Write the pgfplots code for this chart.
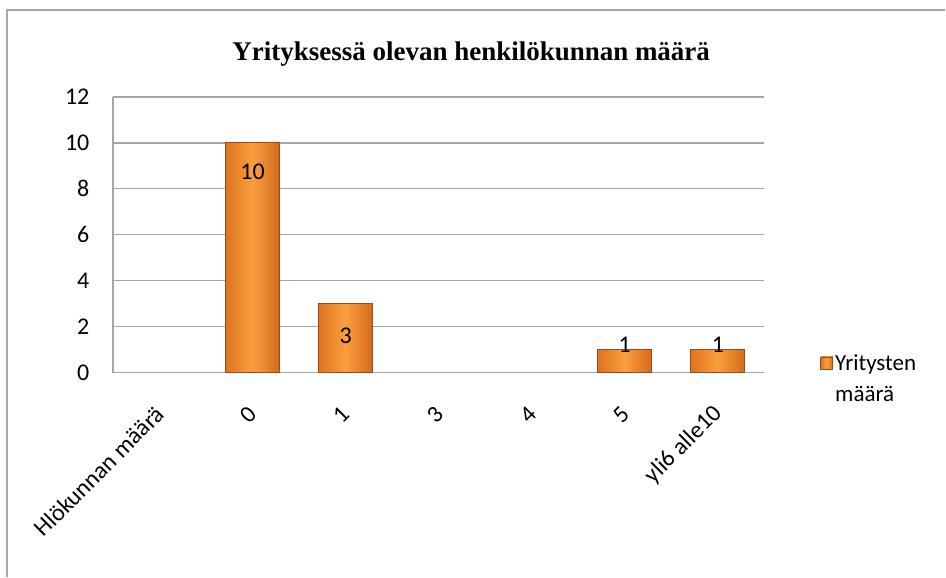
\documentclass[border=0pt]{standalone}
\usepackage{pgfplots}
\pgfplotsset{compat=1.18}
\usepackage{fontspec}
\setmainfont{Carlito}
\newfontfamily\titlefont{Liberation Serif}
\definecolor{gridgray}{RGB}{166,166,166}
\definecolor{barL}{RGB}{222,116,34}
\definecolor{barM}{RGB}{252,158,62}
\definecolor{barR}{RGB}{212,106,28}
\definecolor{barEdge}{RGB}{150,76,22}
\pgfplotsset{
  mybar/.style={ybar, bar width=54pt, bar shift=0pt, draw=barEdge, line width=0.8pt,
    left color=barL, right color=barR, middle color=barM,
    nodes near coords, point meta=y,
    every node near coord/.append style={anchor=north, yshift=#1, text=black,
      font=\fontsize{24}{28}\selectfont, /pgf/number format/assume math mode=true}},
}
\begin{document}
\begin{tikzpicture}[x=1pt,y=1pt]
\path[fill=white] (0,0) rectangle (946,577);
\draw[gridgray, line width=1.5pt] (7,0) -- (7,567) -- (946,567);
\begin{axis}[
  at={(113pt,204pt)}, anchor=south west,
  scale only axis, width=652pt, height=276pt,
  xmin=-0.5, xmax=6.5, ymin=0, ymax=12,
  xtick={0,1,2,3,4,5,6},
  xticklabels={Hlökunnan määrä,0,1,3,4,5,yli6 alle10},
  ytick={0,2,4,6,8,10,12},
  ymajorgrids, grid style={gridgray, line width=1.3pt},
  axis line style={gridgray, line width=1.3pt},
  axis x line*=bottom, axis y line*=left,
  major tick length=0pt,
  tick style={draw=none},
  /pgf/number format/assume math mode=true,
  ticklabel style={font=\fontsize{24}{28}\selectfont, text=black},
  yticklabel style={xshift=-20pt},
  xticklabel style={anchor=east, xshift=3pt, yshift=-35pt, rotate=45},
  title={\titlefont\bfseries Yrityksessä olevan henkilökunnan määrä},
  title style={at={(0.55,1.135)}, anchor=center, font=\fontsize{27}{32}\selectfont},
  legend style={at={(1.081,0.08)}, anchor=north west, draw=none, fill=none,
    font=\fontsize{23}{31}\selectfont, cells={anchor=west, align=left}},
  legend image code/.code={\fill[left color=barL, right color=barR, middle color=barM, draw=barEdge] (0pt,10pt) rectangle (12pt,22pt);},
]
\addplot[mybar=-17pt] coordinates {(1,10)};
\addlegendentry{Yritysten\\määrä}
\addplot[mybar=-20pt, forget plot] coordinates {(2,3)};
\addplot[mybar=16pt, forget plot] coordinates {(5,1)};
\addplot[mybar=16pt, forget plot] coordinates {(6,1)};
\end{axis}
\end{tikzpicture}
\end{document}
